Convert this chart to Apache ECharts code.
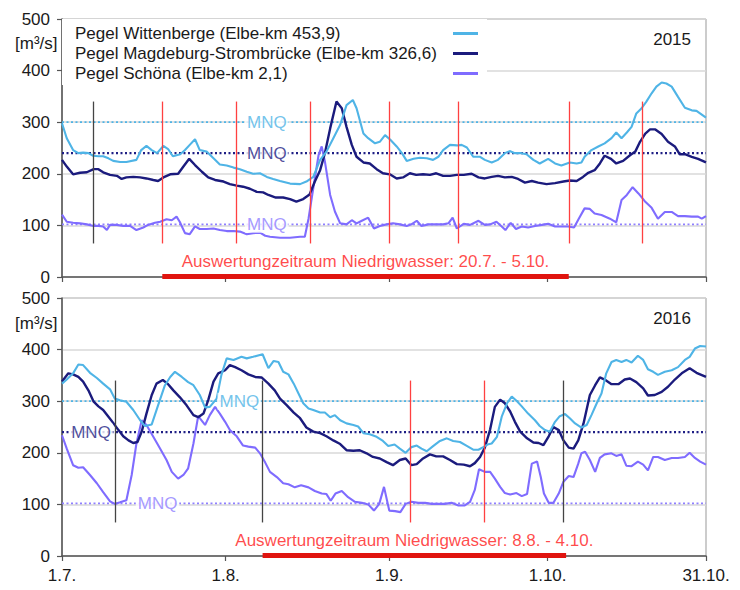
<!DOCTYPE html>
<html><head><meta charset="utf-8">
<script src="https://cdn.jsdelivr.net/npm/echarts@6/dist/echarts.min.js"></script>
<style>html,body{margin:0;padding:0;background:#fff}#c{width:740px;height:590px}</style>
</head><body><div id="c"></div>
<script>
// ---- axis ticks (day index counted from 1 July) ----
const tickDays = [0, 31, 62, 92, 122];
const tickLabels = ['1.7.', '1.8.', '1.9.', '1.10.', '31.10.'];
const yTicks = [0, 100, 200, 300, 400, 500];
const stationNames = ['Pegel Wittenberge (Elbe-km 453,9)', 'Pegel Magdeburg-Strombrücke (Elbe-km 326,6)', 'Pegel Schöna (Elbe-km 2,1)'];
const years = ['2015', '2016'];
const unitLabel = '[m³/s]';
const mnqLabel = 'MNQ';
const mnqValues = [300, 240, 102];   // Wittenberge, Magdeburg, Schöna

// ---- discharge [day, m³/s] ----
const wittenberge2015 = [[0,298],[0.9,269],[2.1,246],[3.1,240],[4,241],[5,240],[5.9,235],[6.9,234],[7.8,234],[8.8,230],[9.7,225],[11,223],[12.2,223],[14.1,227],[15,246],[16,254],[17,246],[18,240],[19.2,254],[20.1,248],[21,234],[22.4,238],[23.3,246],[24.2,256],[25.2,267],[26.1,246],[27.4,243],[28.7,230],[29.9,218],[31.2,216],[32.5,212],[33.7,209],[35,204],[36.2,200],[37.5,201],[38.8,194],[40,190],[41.3,186],[43.2,181],[45.1,180],[46.3,185],[47.6,194],[48.9,227],[50.1,243],[51.4,269],[52.7,295],[53.9,333],[55.1,343],[55.8,327],[57.1,278],[58,269],[59.3,259],[60.2,262],[61.2,275],[62.2,266],[63.4,253],[64.4,240],[65.3,225],[66.6,229],[67.8,231],[69.1,230],[70.3,227],[71.3,233],[72.2,246],[73.5,256],[74.8,255],[75.7,256],[76.7,251],[77.9,233],[79.2,233],[80.1,227],[81.4,222],[82.6,227],[83.9,240],[84.8,244],[85.8,240],[87,240],[88,238],[89.3,227],[90.5,220],[92.1,229],[93.4,220],[94.6,216],[96.2,222],[97.5,220],[98.4,222],[99,233],[100.3,246],[101.6,253],[102.8,259],[104.1,269],[105,280],[106,269],[107,280],[107.9,291],[108.8,317],[109.8,327],[110.7,340],[111.7,356],[112.6,369],[113.6,377],[114.5,375],[115.5,369],[116.7,349],[118,328],[119.3,323],[120.2,322],[122,309]];
const magdeburg2015 = [[0,227],[0.9,214],[2.1,199],[3.4,202],[4.7,203],[6,209],[6.9,209],[7.8,203],[9.1,198],[10.4,196],[11.3,190],[12.2,193],[13.5,194],[14.8,193],[16,191],[17.3,188],[18.2,186],[19.2,193],[20.5,199],[22,200],[23,214],[24.1,229],[25.2,217],[26.5,204],[27.7,193],[29,188],[30.6,185],[31.8,180],[33.1,177],[34.3,175],[35.6,171],[36.9,165],[38.1,164],[39.1,159],[40.5,154],[41.9,154],[43.2,151],[44.4,146],[45.7,151],[46.9,160],[47.9,185],[48.9,207],[49.8,240],[50.8,288],[52,340],[53,327],[53.9,291],[54.9,256],[55.8,233],[57.1,222],[58.3,220],[59.6,209],[60.8,201],[62.1,199],[63.4,191],[64.6,193],[65.9,201],[67.1,198],[68.4,199],[69.7,198],[70.9,201],[72.2,196],[73.5,196],[74.8,198],[76.1,198],[77.6,200],[78.9,193],[80.1,191],[81.4,194],[82.6,196],[83.9,193],[85.2,194],[86.4,190],[87.7,183],[89,186],[90.2,183],[91.8,180],[93.4,182],[95,185],[96.2,187],[97.5,186],[98.7,194],[99.7,202],[100.9,207],[101.9,220],[102.8,235],[104,229],[105,220],[106.3,225],[107.6,236],[108.6,243],[109.5,262],[110.5,278],[111.4,286],[112.4,286],[113.6,277],[114.8,262],[116.1,253],[117,238],[118,238],[119.3,233],[120.5,229],[122,222]];
const schoena2015 = [[0,121],[0.9,107],[2.1,105],[3.4,104],[4.7,102],[6,99],[6.9,99],[7.8,98],[8.5,91],[9.1,101],[10.4,101],[11.6,99],[12.9,99],[14.1,91],[15.4,96],[16.3,101],[17.6,105],[18.6,107],[19.8,112],[20.8,110],[21.7,117],[22.3,107],[23.3,85],[24.2,83],[25.2,98],[26.1,93],[27.4,93],[28.7,94],[29.9,91],[31.2,89],[32.5,89],[33.7,88],[35,83],[36.2,85],[37.5,86],[38.5,80],[39.4,78],[41.3,76],[43.2,76],[45.1,78],[46,78],[46.7,113],[47.6,172],[48.6,236],[49.2,253],[49.8,224],[50.8,159],[51.7,127],[52.7,104],[53.9,102],[54.9,110],[55.8,104],[56.8,109],[58,115],[59.1,94],[60.2,99],[61.5,102],[62.7,104],[64,102],[65.3,99],[66.2,102],[67.2,109],[68.1,99],[69.4,102],[70.6,102],[72.2,102],[73.2,104],[74,115],[74.8,94],[76.1,103],[77.3,101],[78.9,109],[80.1,101],[81.1,102],[82.3,107],[83.3,98],[84,91],[85,105],[86,93],[87.1,98],[88.3,96],[89.6,99],[90.9,101],[92.1,103],[93.4,98],[94.6,98],[95.9,98],[97,96],[97.9,113],[99,133],[100,132],[100.9,123],[102.2,120],[103.8,113],[105,106],[106,149],[107,159],[108.1,174],[109.2,162],[110.4,147],[111.7,134],[112.9,113],[114.2,126],[115.5,126],[116.7,118],[118,118],[119.3,117],[120.5,117],[121.2,113],[122,118]];
const wittenberge2016 = [[0,334],[0.9,342],[2.1,354],[3.1,371],[4,370],[5.3,355],[6.6,345],[7.8,334],[9.1,323],[10,305],[11,302],[12.2,299],[13.5,283],[14.8,263],[15.7,252],[17,255],[18.2,292],[19.5,331],[20.5,347],[21.4,357],[22.7,347],[23.9,337],[24.9,331],[26.1,312],[27.1,288],[28,289],[29.3,305],[30.2,351],[31.2,383],[32.5,380],[34,386],[35,383],[36.2,386],[38,391],[39.1,364],[40.1,378],[41,376],[41.9,357],[42.9,352],[43.9,334],[44.8,315],[45.7,296],[46.7,286],[47.6,283],[48.9,278],[49.8,278],[50.8,269],[51.7,273],[52.7,263],[53.9,257],[55.2,254],[56.1,251],[57.1,238],[58.3,236],[59.6,231],[60.8,223],[61.8,213],[63,216],[64,208],[65.1,200],[66.2,211],[67.2,214],[68.1,208],[69.1,203],[70.3,213],[71.6,223],[72.9,228],[74.1,223],[75.4,221],[76.6,214],[77.9,206],[78.9,206],[79.8,211],[80.6,216],[81.4,218],[82.4,231],[83.3,270],[84.3,296],[85.2,309],[86.2,300],[87.1,290],[88.3,276],[89.6,263],[90.5,252],[91.5,244],[92.4,241],[93.4,260],[94.3,271],[95.3,275],[96.2,267],[97.2,257],[98.4,249],[99.4,254],[100.3,273],[101.3,296],[102.2,315],[103.1,354],[104.1,376],[105,380],[106,376],[106.9,380],[107.9,375],[109.1,388],[110.1,380],[111,362],[112,357],[112.9,351],[114.2,357],[115.5,360],[116.7,366],[118,380],[118.9,386],[119.9,402],[120.9,407],[122,406]];
const magdeburg2016 = [[0,338],[1.2,354],[2.1,352],[3.1,347],[4,338],[5,321],[6,299],[6.9,290],[7.8,283],[8.8,270],[9.7,258],[10.7,244],[11.6,232],[12.6,224],[13.5,219],[14.3,221],[15.1,241],[16,276],[17,312],[17.9,334],[19.1,341],[20.1,333],[21.1,321],[22.3,308],[23.6,292],[24.9,273],[25.8,269],[26.8,276],[27.7,302],[28.7,338],[29.6,354],[30.9,360],[31.8,370],[32.8,366],[34,360],[35.3,352],[36.6,347],[37.8,346],[39.1,334],[40.3,321],[41.3,305],[42.6,292],[43.9,278],[45.1,267],[46.3,249],[47.6,241],[48.9,238],[50.1,232],[51.4,224],[52.7,217],[53.9,205],[55.2,204],[56.4,205],[57.7,199],[58.9,192],[60.2,189],[61.5,182],[62.7,176],[64,186],[65.1,189],[66.2,176],[67.2,178],[68.4,189],[69.7,197],[70.9,193],[72.2,193],[73.5,186],[74.8,178],[76.1,177],[77.3,174],[78.2,180],[79.2,192],[80.1,210],[81.1,245],[82,289],[83,303],[83.9,296],[84.9,280],[85.8,260],[86.8,241],[88.1,228],[89.3,220],[90.3,219],[91.2,215],[92.2,232],[93.1,250],[94.1,244],[95,224],[96,210],[96.9,208],[97.8,224],[98.8,257],[100,312],[101,331],[101.9,346],[102.8,342],[104.1,333],[105.4,333],[106.6,342],[107.6,344],[108.8,337],[110.1,325],[111,311],[112.3,312],[113.6,318],[114.8,328],[116.1,342],[117.4,354],[118.9,364],[120.2,355],[122,347]];
const schoena2016 = [[0,234],[0.9,208],[2.1,176],[3.1,171],[4,172],[5.3,157],[6.6,141],[7.8,124],[9.1,106],[10,101],[11,104],[12.2,108],[13.2,157],[14.1,218],[15.1,263],[16,254],[17.3,231],[18.6,208],[19.8,186],[20.8,163],[22,150],[23,157],[23.9,170],[24.9,218],[25.8,271],[27.1,254],[28,273],[29,289],[29.9,276],[30.9,260],[31.8,244],[33.1,232],[34.3,214],[35.3,212],[36.6,210],[37.5,199],[38.5,181],[39.4,163],[40.7,153],[41.9,141],[42.9,139],[44.1,133],[45.3,137],[46.7,133],[47.9,126],[49.2,121],[50.1,120],[50.9,107],[51.8,121],[53,126],[54.2,114],[55.5,105],[56.8,103],[58,100],[59.1,88],[60.1,101],[61,134],[62,88],[63.1,87],[64.1,85],[65.1,101],[66.2,105],[67.5,103],[68.8,103],[70,101],[71.3,101],[72.5,101],[73.8,103],[75.1,98],[76.3,98],[77.3,105],[78.2,128],[79,168],[80.1,163],[81.1,163],[82,150],[83,134],[83.9,122],[84.9,119],[86.1,122],[87.1,116],[88.1,120],[89,179],[90,183],[90.7,153],[91.3,121],[92.2,103],[93.1,103],[94.1,121],[95,144],[96,155],[96.9,153],[97.8,179],[98.4,199],[99.1,202],[100,186],[101,163],[101.9,190],[102.8,197],[104.1,199],[105,194],[106,197],[106.9,175],[107.9,174],[109.1,183],[110.1,177],[111,166],[112,192],[112.9,192],[114.2,186],[115.5,190],[116.7,190],[118,192],[118.9,200],[119.9,190],[120.9,183],[122,177]];

// ---- event markers (day index) and evaluation periods ----
const blackMarkers2015 = [6];
const redMarkers2015 = [19, 33, 47, 62, 75, 96, 110];
const blackMarkers2016 = [10, 38, 95];
const redMarkers2016 = [66, 80];
const markerRange = [65, 340];
const period2015 = [19, 96];
const period2016 = [38, 95.5];
const periodLabels = ['Auswertungzeitraum Niedrigwasser: 20.7. - 5.10.', 'Auswertungzeitraum Niedrigwasser: 8.8. - 4.10.'];
const periodLabelValue = 30;
const periodBarValue = 2;
// MNQ label anchors (day) per panel: [Wittenberge, Magdeburg, Schöna]
const mnqLabelDays2015 = [38.8, 38.8, 38.8];
const mnqLabelDays2016 = [33.6, 5.5, 18.1];

const FONT = '"Liberation Sans", Arial, sans-serif';
const COLORS = ['#4fb4e6', '#1b1b7d', '#7f6cff'];
const MNQ_COLORS = ['#4fb4e6', '#1f1f85', '#8f80ff'];
const TEXT = '#1a1a1a';

const panels = [
  {data: [wittenberge2015, magdeburg2015, schoena2015], black: blackMarkers2015, red: redMarkers2015, period: period2015, label: periodLabels[0], mnqDays: mnqLabelDays2015},
  {data: [wittenberge2016, magdeburg2016, schoena2016], black: blackMarkers2016, red: redMarkers2016, period: period2016, label: periodLabels[1], mnqDays: mnqLabelDays2016}
];

const grids = [
  {left: 62, top: 19, width: 644, height: 258, show: true, borderColor: '#999', borderWidth: 1},
  {left: 62, top: 298, width: 644, height: 258, show: true, borderColor: '#999', borderWidth: 1}
];

const xAxes = [0, 1].map(i => ({
  type: 'value', gridIndex: i, min: 0, max: 122,
  splitLine: {show: false},
  axisLine: {show: true, lineStyle: {color: '#555', width: 1.5}},
  axisTick: {show: true, customValues: tickDays, length: 5, lineStyle: {color: '#555', width: 1.2}},
  axisLabel: {show: i === 1, customValues: tickDays, margin: 11, fontSize: 17, color: TEXT, fontFamily: FONT,
    formatter: v => tickLabels[tickDays.indexOf(v)]}
}));

const yAxes = [0, 1].map(i => ({
  type: 'value', gridIndex: i, min: yTicks[0], max: yTicks[yTicks.length - 1], interval: 100,
  axisLine: {show: true, lineStyle: {color: '#555', width: 1.5}},
  axisTick: {show: true, length: 5, lineStyle: {color: '#555', width: 1.2}},
  axisLabel: {margin: 12, fontSize: 17, color: TEXT, fontFamily: FONT},
  splitLine: {show: true, lineStyle: {color: '#d9d9d9', width: 1.5}}
}));

const series = [];
panels.forEach((p, i) => {
  // MNQ dotted reference lines
  mnqValues.forEach((v, k) => {
    const s = {
      type: 'line', xAxisIndex: i, yAxisIndex: i, symbol: 'none', silent: true, z: 1,
      data: [[tickDays[0], v], [tickDays[tickDays.length - 1], v]],
      lineStyle: {color: MNQ_COLORS[k], width: k === 1 ? 2.2 : 1.8, type: [2, 2.5]}
    };
    if (k === 0) {
      s.markLine = {
        silent: true, symbol: 'none', animation: false, label: {show: false},
        data: p.black.map(d => [{coord: [d, markerRange[0]], lineStyle: {color: '#444', width: 1.3, type: 'solid'}}, {coord: [d, markerRange[1]]}])
          .concat(p.red.map(d => [{coord: [d, markerRange[0]], lineStyle: {color: '#ff4040', width: 1.3, type: 'solid'}}, {coord: [d, markerRange[1]]}]))
          .concat([[{coord: [p.period[0], periodBarValue], lineStyle: {color: '#e0140f', width: 5, type: 'solid'}}, {coord: [p.period[1], periodBarValue]}]])
      };
    }
    series.push(s);
  });
  // discharge lines
  [2, 1, 0].forEach(k => {
    series.push({
      name: stationNames[k], type: 'line', xAxisIndex: i, yAxisIndex: i,
      symbol: 'none', showSymbol: false, z: 3,
      data: p.data[k],
      lineStyle: {color: COLORS[k], width: k === 1 ? 2.4 : 2.1},
      itemStyle: {color: COLORS[k]}
    });
  });
  // text labels anchored in data space
  const labelData = mnqValues.map((v, k) => ({
    value: [p.mnqDays[k], v], name: mnqLabel,
    label: {color: MNQ_COLORS[k], backgroundColor: '#fff', padding: [0, 2]}
  }));
  labelData.push({
    value: [(p.period[0] + p.period[1]) / 2, periodLabelValue], name: p.label,
    label: {color: '#ff1a1a'}
  });
  series.push({
    type: 'scatter', xAxisIndex: i, yAxisIndex: i, z: 5, silent: true,
    symbolSize: 1, itemStyle: {color: 'rgba(0,0,0,0)'},
    data: labelData,
    label: {show: true, position: 'inside', formatter: '{b}', fontSize: 17, fontFamily: FONT}
  });
});

const chart = echarts.init(document.getElementById('c'), null, {renderer: 'svg'});
chart.setOption({
  animation: false,
  backgroundColor: '#fff',
  textStyle: {fontFamily: FONT},
  grid: grids,
  xAxis: xAxes,
  yAxis: yAxes,
  legend: {
    data: stationNames, orient: 'vertical', left: 62, top: 19, align: 'right',
    backgroundColor: '#fff', padding: [6, 9, 3, 13], itemGap: 3, itemWidth: 25, itemHeight: 3,
    icon: 'rect', selectedMode: false,
    formatter: n => '{t|' + n + '}',
    textStyle: {rich: {t: {width: 373, align: 'left', fontSize: 17, lineHeight: 20, color: TEXT, fontFamily: FONT}}}
  },
  graphic: [
    {type: 'text', x: 15, y: 43, style: {text: unitLabel, fill: TEXT, font: '17px ' + FONT, verticalAlign: 'middle', align: 'left'}},
    {type: 'text', x: 15, y: 323, style: {text: unitLabel, fill: TEXT, font: '17px ' + FONT, verticalAlign: 'middle', align: 'left'}},
    {type: 'text', x: 691, y: 39, style: {text: years[0], fill: TEXT, font: '17px ' + FONT, verticalAlign: 'middle', align: 'right'}},
    {type: 'text', x: 691, y: 318, style: {text: years[1], fill: TEXT, font: '17px ' + FONT, verticalAlign: 'middle', align: 'right'}}
  ],
  series: series
});
</script>
</body></html>
